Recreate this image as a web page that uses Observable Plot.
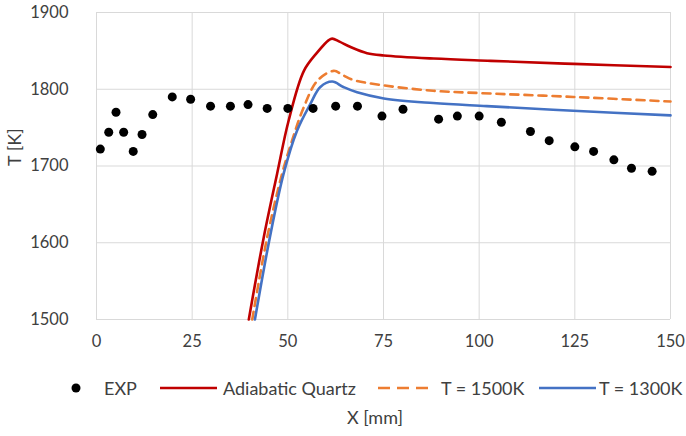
<!DOCTYPE html>
<html>
<head>
<meta charset="utf-8">
<script src="https://cdn.jsdelivr.net/npm/d3@7"></script>
<script src="https://cdn.jsdelivr.net/npm/@observablehq/plot@0.6"></script>
<style>
  body { margin: 0; background: #fff; font-family: Lato, "Open Sans", sans-serif; color: #404040; }
  #wrap { width: 686px; }
  .legend { position: relative; height: 40px; font-size: 18px; color: #404040; }
  .legend span { position: absolute; top: 17px; line-height: 22px; white-space: nowrap; }
  .xlabel { position: absolute; left: 0; top: 406px; width: 686px; text-align: center; font-size: 18px; line-height: 22px; padding-left: 64px; box-sizing: border-box; color: #404040; }
</style>
</head>
<body>
<div id="wrap"></div>
<script>
// EXP measurements
const expX = [1, 3.2, 5.1, 7.1, 9.6, 11.9, 14.7, 19.8, 24.6, 29.8, 35, 39.6, 44.6, 50, 56.6, 62.5, 68.2, 74.6, 80.1, 89.4, 94.3, 100, 105.8, 113.4, 118.3, 125, 129.9, 135.2, 139.8, 145.2];
const expT = [1722, 1744, 1770, 1744, 1719, 1741, 1767, 1790, 1787, 1778, 1778, 1780, 1775, 1775, 1775, 1778, 1778, 1765, 1774, 1761, 1765, 1765, 1757, 1745, 1733, 1725, 1719, 1708, 1697, 1693];

// Adiabatic Quartz
const adiX = [39.8, 43.7, 47.2, 50.2, 54.2, 57.7, 60.7, 61.6, 63.5, 66.4, 70.7, 75.1, 88.1, 103, 124.7, 150];
const adiT = [1500, 1607, 1690, 1759, 1824, 1848, 1864, 1866, 1862, 1855, 1847, 1844, 1840, 1837, 1833, 1829];

// T = 1500K
const t1500X = [40.7, 44.6, 48.5, 51.1, 54.2, 57.7, 62, 64.5, 67.2, 75.1, 88, 100.3, 124.6, 150];
const t1500T = [1500, 1607, 1690, 1733, 1777, 1811, 1824, 1818, 1812, 1805, 1798, 1795, 1790, 1784];

// T = 1300K
const t1300X = [41.4, 45.3, 48.9, 52.4, 55.9, 58.5, 61.6, 64.5, 68.1, 75.1, 88, 102, 124.6, 150];
const t1300T = [1500, 1607, 1690, 1746, 1781, 1803, 1810, 1803, 1796, 1788, 1782, 1778, 1772, 1766];

const xTicks = [0, 25, 50, 75, 100, 125, 150];
const yTicks = [1500, 1600, 1700, 1800, 1900];

const seriesNames = ["EXP", "Adiabatic Quartz", "T = 1500K", "T = 1300K"];
const colors = {"Adiabatic Quartz": "#C00000", "T = 1500K": "#ED7D31", "T = 1300K": "#4472C4"};

const expData = expX.map((x, i) => ({x, T: expT[i]}));
const adiData = adiX.map((x, i) => ({x, T: adiT[i]}));
const d1500 = t1500X.map((x, i) => ({x, T: t1500T[i]}));
const d1300 = t1300X.map((x, i) => ({x, T: t1300T[i]}));

const chart = Plot.plot({
  width: 686,
  height: 360,
  marginLeft: 96,
  marginRight: 16,
  marginTop: 12,
  marginBottom: 41,
  style: {fontFamily: "Lato, 'Open Sans', sans-serif", fontSize: "16.5px", color: "#404040", background: "#fff"},
  x: {domain: [0, 150]},
  y: {domain: [1500, 1900]},
  marks: [
    Plot.gridX(xTicks, {stroke: "#d9d9d9", strokeOpacity: 1, strokeWidth: 1}),
    Plot.gridY(yTicks, {stroke: "#d9d9d9", strokeOpacity: 1, strokeWidth: 1}),
    Plot.axisX({ticks: xTicks, tickSize: 0, tickPadding: 16, tickFormat: "d", label: null}),
    Plot.axisY({ticks: yTicks, tickSize: 0, tickPadding: 28, tickFormat: "d", label: null}),
    Plot.text(["T [K]"], {frameAnchor: "left", dx: -81, rotate: -90, fontSize: 18, fill: "#404040"}),
    Plot.line(adiData, {x: "x", y: "T", stroke: colors["Adiabatic Quartz"], strokeWidth: 2.6, curve: "catmull-rom"}),
    Plot.line(d1500, {x: "x", y: "T", stroke: colors["T = 1500K"], strokeWidth: 2.6, strokeDasharray: "8,6", curve: "catmull-rom"}),
    Plot.line(d1300, {x: "x", y: "T", stroke: colors["T = 1300K"], strokeWidth: 2.6, curve: "catmull-rom"}),
    Plot.dot(expData, {x: "x", y: "T", r: 4.5, fill: "#000", stroke: "none"})
  ]
});
const wrap = document.getElementById("wrap");
wrap.appendChild(chart);

// Legend
const legend = document.createElement("div");
legend.className = "legend";
const items = [
  {name: seriesNames[0], kind: "dot", sx: 71, tx: 104},
  {name: seriesNames[1], kind: "line", sx: 160, tx: 223},
  {name: seriesNames[2], kind: "dash", sx: 378, tx: 441},
  {name: seriesNames[3], kind: "line", sx: 539, tx: 599}
];
let svgL = `<svg width="686" height="40" style="position:absolute;left:0;top:0">`;
for (const it of items) {
  if (it.kind === "dot") svgL += `<circle cx="${it.sx + 5}" cy="28" r="4.5" fill="#000"/>`;
  else if (it.kind === "line") svgL += `<line x1="${it.sx}" x2="${it.sx + 57}" y1="28" y2="28" stroke="${colors[it.name]}" stroke-width="2.6"/>`;
  else svgL += `<line x1="${it.sx}" x2="${it.sx + 50}" y1="28" y2="28" stroke="${colors[it.name]}" stroke-width="2.6" stroke-dasharray="12,7"/>`;
}
svgL += `</svg>`;
legend.innerHTML = svgL + items.map(it => `<span style="left:${it.tx}px">${it.name}</span>`).join("");
wrap.appendChild(legend);

const xl = document.createElement("div");
xl.className = "xlabel";
xl.textContent = "X [mm]";
wrap.appendChild(xl);
</script>
</body>
</html>
